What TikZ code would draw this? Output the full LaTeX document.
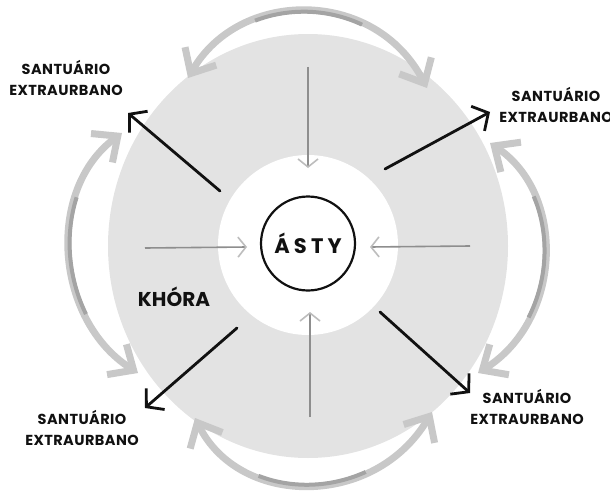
\documentclass[tikz,border=0pt]{standalone}
\usepackage{fontspec}
\setmainfont{Poppins}
\usetikzlibrary{arrows.meta,shapes.geometric}
\definecolor{disk}{HTML}{E3E3E3}
\definecolor{arclight}{HTML}{C8C8C8}
\definecolor{arcdark}{HTML}{A4A4A4}
\definecolor{inline}{HTML}{8E8E8E}
\definecolor{inhead}{HTML}{BDBDBD}
\definecolor{ink}{HTML}{111111}
\tikzset{
  lbl/.style={font=\fontsize{14.5}{21}\selectfont\bfseries\addfontfeature{LetterSpace=3}, align=center, text=ink, inner sep=0pt},
  blackarrow/.style={ink, line width=2.8pt, line cap=round, -{Straight Barb[length=12pt,width=28pt]}},
  inarrow/.style={inline, line width=1.6pt, -{Straight Barb[length=8pt,width=20pt,color=inhead]}},
  arcarrow/.style={arclight, line width=7pt, {Straight Barb[length=20pt,width=36pt]}-{Straight Barb[length=20pt,width=36pt]}},
  arcmark/.style={arcdark, line width=4pt, line cap=butt},
}
\begin{document}
\begin{tikzpicture}[x=1pt,y=-1pt]
\useasboundingbox (0,0) rectangle (610,495);
% zones
\node[ellipse, fill=disk, minimum width=400pt, minimum height=424pt, inner sep=0pt] (khora) at (308,246) {};
\node[circle, fill=white, minimum size=180pt, inner sep=0pt] (city) at (308,245) {};
\node[circle, draw=ink, line width=2.2pt, minimum size=94pt, inner sep=0pt,
      font=\fontsize{21}{21}\selectfont\bfseries\addfontfeature{LetterSpace=20}, text=ink] (asty) at (308,243.5) {ÁSTY};
\node[font=\fontsize{20}{20}\selectfont\bfseries, text=ink, inner sep=0pt] (khoralbl) at (174,297) {KHÓRA};
% labels
\node[lbl] (s1) at (66,78) {SANTUÁRIO\\EXTRAURBANO};
\node[lbl] (s2) at (556,105) {SANTUÁRIO\\EXTRAURBANO};
\node[lbl] (s3) at (82,428) {SANTUÁRIO\\EXTRAURBANO};
\node[lbl] (s4) at (527,407) {SANTUÁRIO\\EXTRAURBANO};
% coordinates
\coordinate (tin1) at (308,67);  \coordinate (tin2) at (308,168);
\coordinate (lin1) at (145,248); \coordinate (lin2) at (247,247);
\coordinate (rin1) at (470,246); \coordinate (rin2) at (370,247);
\coordinate (bin1) at (310,417); \coordinate (bin2) at (310,312);
\coordinate (ul1) at (220,191); \coordinate (ul2) at (128,113);
\coordinate (ur1) at (385,169); \coordinate (ur2) at (490,112);
\coordinate (ll1) at (237,328); \coordinate (ll2) at (145,408);
\coordinate (lr1) at (380,312); \coordinate (lr2) at (470,393);
\coordinate (ta) at (188,78);  \coordinate (tb) at (427,88);
\coordinate (la) at (122,133); \coordinate (lb) at (138,373);
\coordinate (ra) at (490,143); \coordinate (rb) at (478,373);
\coordinate (ba) at (195,418); \coordinate (bb) at (432,412);
% inward arrows
\draw[inarrow] (tin1) -- (tin2);
\draw[inarrow] (lin1) -- (lin2);
\draw[inarrow] (rin1) -- (rin2);
\draw[inarrow] (bin1) -- (bin2);
% outward arrows
\draw[blackarrow] (ul1) -- (ul2);
\draw[blackarrow] (ur1) -- (ur2);
\draw[blackarrow] (ll1) -- (ll2);
\draw[blackarrow] (lr1) -- (lr2);
% circulation arcs
\draw[arcarrow] (ta) .. controls (240,-12) and (375,-12) .. (tb);
\draw[arcmark, dash pattern=on 0pt off 90pt on 110pt off 1000pt] (ta) .. controls (240,-12) and (375,-12) .. (tb);
\draw[arcarrow] (la) .. controls (45,190) and (55,320) .. (lb);
\draw[arcmark, dash pattern=on 0pt off 80pt on 120pt off 1000pt] (la) .. controls (45,190) and (55,320) .. (lb);
\draw[arcarrow] (ra) .. controls (567,195) and (562,320) .. (rb);
\draw[arcmark, dash pattern=on 0pt off 70pt on 125pt off 1000pt] (ra) .. controls (567,195) and (562,320) .. (rb);
\draw[arcarrow] (ba) .. controls (240,508) and (375,508) .. (bb);
\draw[arcmark, dash pattern=on 0pt off 88pt on 110pt off 1000pt] (ba) .. controls (240,508) and (375,508) .. (bb);
\end{tikzpicture}
\end{document}
